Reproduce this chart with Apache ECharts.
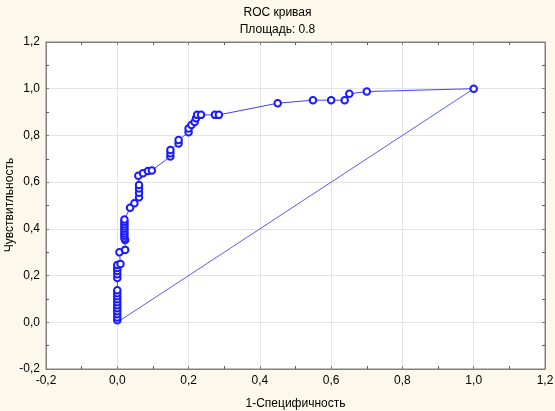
<!DOCTYPE html>
<html>
<head>
<meta charset="UTF-8"/>
<script src="https://cdn.jsdelivr.net/npm/echarts@6/dist/echarts.min.js"></script>
<style>
  html, body { margin: 0; padding: 0; background: #fdf8ec; }
  #c { width: 555px; height: 411px; }
</style>
</head>
<body>
<div id="c"></div>
<script>
// ROC curve points: 1-specificity (x) and sensitivity (y)
const fprX = [
  0, 0, 0, 0, 0, 0, 0, 0, 0, 0, 0,
  0, 0, 0, 0, 0,
  0.009, 0.006, 0.022,
  0.022, 0.02, 0.02, 0.02, 0.02, 0.02, 0.02, 0.02, 0.02, 0.02,
  0.036, 0.048, 0.061, 0.061, 0.061, 0.061, 0.059, 0.072, 0.086, 0.097,
  0.149, 0.149, 0.149, 0.172, 0.172, 0.2, 0.2, 0.208, 0.217, 0.221, 0.224, 0.235, 0.274, 0.285,
  0.45, 0.549, 0.60, 0.638, 0.651, 0.70, 1.0
];
const tprY = [
  0.009, 0.021, 0.034, 0.047, 0.06, 0.073, 0.086, 0.099, 0.111, 0.124, 0.137,
  0.19, 0.206, 0.22, 0.232, 0.245,
  0.25, 0.30, 0.31,
  0.352, 0.36, 0.37, 0.38, 0.39, 0.40, 0.41, 0.42, 0.43, 0.44,
  0.49, 0.51, 0.535, 0.555, 0.573, 0.588, 0.627, 0.638, 0.648, 0.65,
  0.71, 0.724, 0.738, 0.765, 0.78, 0.814, 0.83, 0.845, 0.857, 0.874, 0.888, 0.888, 0.888, 0.888,
  0.938, 0.951, 0.951, 0.951, 0.978, 0.988, 1.0
];
// reference diagonal
const diagX = [0, 1];
const diagY = [0, 1];

const titleText = 'ROC кривая';
const subText = 'Площадь: 0.8';
const xName = '1-Специфичность';
const yName = 'Чувствитльность';

const font = 'Arial, "Liberation Sans", sans-serif';
const comma = v => v.toFixed(1).replace('.', ',');

const chart = echarts.init(document.getElementById('c'), null, { renderer: 'canvas' });

const baseAxis = {
  min: -0.2, max: 1.2, interval: 0.2,
  axisLine: { show: true, onZero: false, lineStyle: { color: '#808080', width: 1 } },
  axisTick: { show: true, inside: true, length: 3, lineStyle: { color: '#808080' } },
  minorTick: { show: true, splitNumber: 2, length: 3, lineStyle: { color: '#606060' } },
  splitLine: { show: false }
};

chart.setOption({
  backgroundColor: '#fdf8ec',
  animation: false,
  title: {
    text: titleText,
    subtext: subText,
    left: 'center',
    top: 2,
    itemGap: 5,
    textStyle: { fontFamily: font, fontSize: 12, fontWeight: 'normal', color: '#000' },
    subtextStyle: { fontFamily: font, fontSize: 12, color: '#000' }
  },
  grid: {
    left: 46, right: 10, top: 42, bottom: 42,
    outerBoundsMode: 'none', containLabel: false,
    show: true, backgroundColor: '#ffffff', borderColor: '#808080', borderWidth: 1
  },
  // y axis title, placed by hand so it sits left of the tick labels
  graphic: [{
    type: 'text',
    x: 10, y: 205,
    rotation: Math.PI / 2,
    style: { text: yName, font: '12px ' + font, fill: '#000', align: 'center', verticalAlign: 'middle' }
  }],
  xAxis: [
    Object.assign({}, baseAxis, {
      type: 'value', position: 'bottom',
      name: xName, nameLocation: 'middle', nameGap: 29,
      nameTextStyle: { fontFamily: font, fontSize: 12, color: '#000' },
      axisLabel: { formatter: comma, fontFamily: font, fontSize: 12, color: '#000', margin: 6 },
      splitLine: { show: true, lineStyle: { color: '#e4e4e4', width: 1 } }
    }),
    Object.assign({}, baseAxis, { type: 'value', position: 'top', axisLabel: { show: false } })
  ],
  yAxis: [
    Object.assign({}, baseAxis, {
      type: 'value', position: 'left',
      axisLabel: { formatter: comma, fontFamily: font, fontSize: 12, color: '#000', margin: 6 },
      splitLine: { show: true, lineStyle: { color: '#e4e4e4', width: 1 } }
    }),
    Object.assign({}, baseAxis, { type: 'value', position: 'right', axisLabel: { show: false } })
  ],
  series: [
    {
      type: 'line',
      data: diagX.map((x, i) => [x, diagY[i]]),
      showSymbol: false,
      lineStyle: { color: '#5a5aff', width: 1 },
      z: 2
    },
    {
      type: 'line',
      data: fprX.map((x, i) => [x, tprY[i]]),
      symbol: 'emptyCircle',
      symbolSize: 6.5,
      lineStyle: { color: '#4040ff', width: 1 },
      itemStyle: { color: '#1a1aff', borderColor: '#1a1aff', borderWidth: 1 },
      z: 3
    }
  ]
});
</script>
</body>
</html>
